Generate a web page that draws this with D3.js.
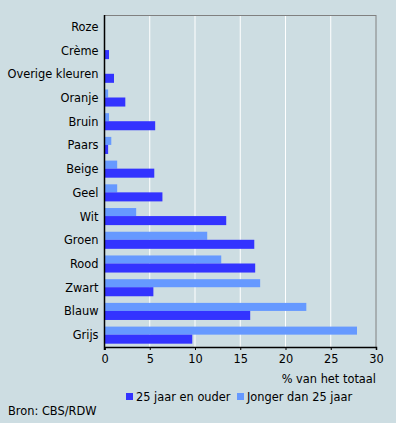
<!DOCTYPE html>
<html>
<head>
<meta charset="utf-8">
<script src="https://cdn.jsdelivr.net/npm/d3@7"></script>
<style>
  body { margin: 0; background: #cddde2; }
  svg { display: block; font-family: "DejaVu Sans", Verdana, sans-serif; }
</style>
</head>
<body>
<div id="chart"></div>
<script>
// Data
const categories = ["Roze", "Crème", "Overige kleuren", "Oranje", "Bruin", "Paars", "Beige",
    "Geel", "Wit", "Groen", "Rood", "Zwart", "Blauw", "Grijs"];
const ouder = [0, 0.5, 1.05, 2.3, 5.6, 0.4, 5.5, 6.4, 13.45, 16.55, 16.65, 5.4, 16.1, 9.7];
const jonger = [0, 0, 0, 0.4, 0.5, 0.75, 1.4, 1.4, 3.5, 11.35, 12.9, 17.2, 22.3, 27.9];
const xTicks = [0, 5, 10, 15, 20, 25, 30];

const W = 396, H = 423;
const margin = { top: 15, right: 20, bottom: 76, left: 104.5 };
const width = W - margin.left - margin.right;
const height = H - margin.top - margin.bottom;
const fs = 11.4;

const svg = d3.select("#chart").append("svg")
    .attr("width", W)
    .attr("height", H);

svg.append("rect").attr("width", W).attr("height", H).attr("fill", "#cddde2");

const g = svg.append("g").attr("transform", `translate(${margin.left},${margin.top})`);

const x = d3.scaleLinear().domain([0, 30]).range([0, width]);
const y = d3.scaleBand().domain(categories).range([0, height]).paddingInner(0.28).paddingOuter(0.14);

// gridlines
g.selectAll(".grid")
    .data(xTicks.slice(1, -1))
    .enter().append("line")
    .attr("x1", d => x(d)).attr("x2", d => x(d))
    .attr("y1", 0).attr("y2", height)
    .attr("stroke", "#ffffff").attr("stroke-width", 1);

// frame top and right
g.append("line").attr("x1", 0).attr("x2", width).attr("y1", 0.5).attr("y2", 0.5)
    .attr("stroke", "#808080");
g.append("line").attr("x1", width).attr("x2", width).attr("y1", 0).attr("y2", height)
    .attr("stroke", "#808080");

// bars
const half = y.bandwidth() / 2;
g.selectAll(".jonger")
    .data(categories)
    .enter().append("rect")
    .attr("x", 0)
    .attr("y", d => y(d))
    .attr("width", (d, i) => x(jonger[i]))
    .attr("height", half - 0.5)
    .attr("fill", "#6699ff");

g.selectAll(".ouder")
    .data(categories)
    .enter().append("rect")
    .attr("x", 0)
    .attr("y", d => y(d) + half - 0.5)
    .attr("width", (d, i) => x(ouder[i]))
    .attr("height", half + 0.5)
    .attr("fill", "#3333ff");

// category labels
g.selectAll(".cat")
    .data(categories)
    .enter().append("text")
    .attr("x", -6)
    .attr("y", d => y(d) + y.bandwidth() / 2)
    .attr("dy", "0.35em")
    .attr("text-anchor", "end")
    .attr("font-size", fs)
    .attr("fill", "#000")
    .text(d => d);

// axes
const xAxis = d3.axisBottom(x).tickValues(xTicks).tickSize(3).tickPadding(5);
const ax = g.append("g")
    .attr("transform", `translate(0,${height})`)
    .call(xAxis);
ax.select(".domain").attr("stroke", "#000").attr("stroke-width", 1.5);
ax.selectAll(".tick line").attr("stroke", "#000");
ax.selectAll("text").attr("font-size", fs).attr("font-family", "DejaVu Sans, Verdana, sans-serif").attr("fill", "#000");

g.append("line").attr("x1", 0).attr("x2", 0).attr("y1", 0).attr("y2", height + 3)
    .attr("stroke", "#000").attr("stroke-width", 1.5);

g.append("text")
    .attr("x", width)
    .attr("y", height + 32)
    .attr("dy", "0.35em")
    .attr("text-anchor", "end")
    .attr("font-size", fs)
    .text("% van het totaal");

// legend
const legend = [
    { label: "25 jaar en ouder", color: "#3333ff", x: 126 },
    { label: "Jonger dan 25 jaar", color: "#6699ff", x: 237 }
];
const lg = svg.selectAll(".legend").data(legend).enter().append("g");
lg.append("rect")
    .attr("x", d => d.x).attr("y", 393)
    .attr("width", 7).attr("height", 7)
    .attr("fill", d => d.color);
lg.append("text")
    .attr("x", d => d.x + 10).attr("y", 397)
    .attr("dy", "0.35em")
    .attr("font-size", fs)
    .text(d => d.label);

svg.append("text")
    .attr("x", 8).attr("y", 411)
    .attr("dy", "0.35em")
    .attr("font-size", fs)
    .text("Bron: CBS/RDW");
</script>
</body>
</html>
